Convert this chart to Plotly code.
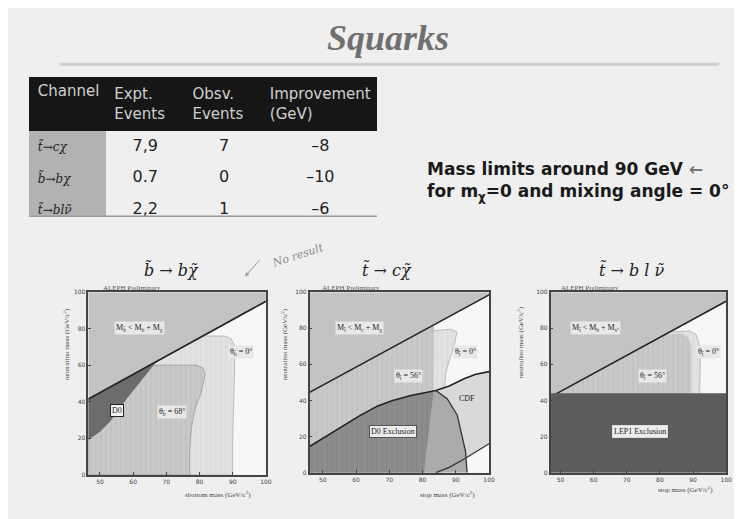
import plotly.graph_objects as go

W, H = 742, 519
OFF = 8  # browser body margin


def px(x):
    return (x - OFF) / W


def py(y):
    return 1 - (y - OFF) / H


# ---------------- table data ----------------
table_header = ["Channel", "Expt.<br>Events", "Obsv.<br>Events", "Improvement<br>(GeV)"]
channels = ["t\u0303\u2192c\u03c7", "b\u0303\u2192b\u03c7", "t\u0303\u2192bl\u03bd\u0303"]
expected_events = ["7,9", "0.7", "2,2"]
observed_events = [7, 0, 1]
improvement_gev = [-8, -10, -6]

# ---------------- axes ----------------
mass_ticks = [50, 60, 70, 80, 90, 100]
neut_ticks = [0, 20, 40, 60, 80, 100]

# ---------------- plot 1: sbottom -> b chi ----------------
sb_xrange = [46.5, 100]
sb_kin_x = [46.5, 100]
sb_kin_y = [41.5, 95]
sb_th0_x = [46.5, 46.5, 81, 87.5, 89.5, 90.5, 90.6, 90.3, 90, 90]
sb_th0_y = [0, 41.5, 76, 76, 74.5, 71, 60, 40, 20, 0]
sb_th68_x = [46.5, 46.5, 65, 79, 81, 81.7, 80.5, 78.5, 77.5, 77, 77]
sb_th68_y = [0, 41.5, 60, 60, 58.5, 55, 45, 35, 25, 12, 0]
sb_d0_x = [46.5, 67, 65.5, 63, 60.5, 58, 55.5, 53, 50, 46.5]
sb_d0_y = [41.5, 62, 58.5, 53, 47, 41.5, 35, 29, 23.5, 19]

# ---------------- plot 2: stop -> c chi ----------------
sc_xrange = [46, 100]
sc_kin_x = [46, 100]
sc_kin_y = [44.5, 98.5]
sc_th0_x = [46, 46, 79.5, 88.5, 90.3, 89.5, 88, 87, 86.5, 86]
sc_th0_y = [0, 44.5, 78, 79.5, 78, 70, 62, 55, 45, 0]
sc_th56_x = [46, 46, 83.5, 83.5, 83.3, 82, 80.4]
sc_th56_y = [0, 44.5, 82, 60, 45, 25, 0]
sc_d0curve_x = [46, 50, 56.5, 61, 66.5, 71, 76.5, 80, 84, 88, 92.5, 96, 100]
sc_d0curve_y = [14.5, 19, 26.4, 31.5, 37, 40, 42.8, 44, 45.5, 48, 52, 54.5, 56]
sc_d0edge_x = [84, 87.4, 90.4, 91.9, 92.9, 93.4]
sc_d0edge_y = [45.5, 41, 32, 21, 12, 0]
sc_cdflow_x = [100, 96, 92, 88, 84]
sc_cdflow_y = [16, 11.5, 7, 3, 0]

# ---------------- plot 3: stop -> b l sneutrino ----------------
sl_xrange = [47, 100]
sl_kin_x = [47, 100]
sl_kin_y = [42, 95]
sl_th0_x = [47, 47, 83, 89, 91, 92, 92.2, 92, 92]
sl_th0_y = [0, 42, 78, 78.5, 76.5, 70, 60, 44, 0]
sl_th56_x = [47, 47, 81.5, 86.5, 88.5, 89.5, 89.5, 89.5]
sl_th56_y = [0, 42, 76.5, 77, 75, 70, 55, 0]
sl_lep1_limit = 44

# ---------------- colours ----------------
PAGE = "#efefef"
PLOTBG = "#f7f7f7"
KIN = "#c3c3c3"
LIGHT = "#e2e2e2"
MED = "#c9c9c9"

fig = go.Figure()


def poly(x, y, color, axis, hatch=None, line=None):
    kw = dict(
        x=list(x) + [x[0]], y=list(y) + [y[0]], mode="lines", fill="toself",
        fillcolor=color, line=dict(width=0 if line is None else line[1],
                                   color=color if line is None else line[0]),
        hoverinfo="skip", showlegend=False, xaxis="x" + axis, yaxis="y" + axis,
    )
    if hatch:
        kw["fillpattern"] = dict(shape="|", fgcolor=hatch, bgcolor=color, size=5, solidity=0.18)
    fig.add_trace(go.Scatter(**kw))


def kin_region(xr, ky, axis):
    poly([xr[0], xr[1], xr[1], xr[0]], [ky[0], ky[1], 100, 100], KIN, axis)


def kin_line(kx, ky, axis):
    fig.add_trace(go.Scatter(x=kx, y=ky, mode="lines", line=dict(color="#222", width=1.6),
                             hoverinfo="skip", showlegend=False, xaxis="x" + axis, yaxis="y" + axis))


# plot 1
kin_region(sb_xrange, sb_kin_y, "")
poly(sb_th0_x, sb_th0_y, LIGHT, "", hatch="#cfcfcf", line=("#9a9a9a", 0.6))
poly(sb_th68_x, sb_th68_y, MED, "", hatch="#b0b0b0", line=("#888", 0.6))
poly(sb_d0_x, sb_d0_y, "#6c6c6c", "")
kin_line(sb_kin_x, sb_kin_y, "")

# plot 2
kin_region(sc_xrange, sc_kin_y, "2")
poly(sc_th0_x, sc_th0_y, LIGHT, "2", hatch="#cfcfcf", line=("#9a9a9a", 0.6))
poly(sc_th56_x, sc_th56_y, MED, "2", hatch="#b0b0b0")
poly(sc_d0curve_x + sc_cdflow_x + [sc_xrange[0]],
     sc_d0curve_y + sc_cdflow_y + [0], "#d9d9d9", "2")
poly([sc_xrange[0]] + [v for v in sc_d0curve_x if v <= sc_d0edge_x[0]] + sc_d0edge_x,
     [0] + [sc_d0curve_y[i] for i, v in enumerate(sc_d0curve_x) if v <= sc_d0edge_x[0]] + sc_d0edge_y,
     "#ababab", "2")
ov_x = [v for v in sc_d0curve_x if v <= sc_th56_x[4]]
ov_y = [sc_d0curve_y[i] for i, v in enumerate(sc_d0curve_x) if v <= sc_th56_x[4]]
poly([sc_xrange[0]] + ov_x + sc_th56_x[4:], [0] + ov_y + sc_th56_y[4:], "#8c8c8c", "2", hatch="#7a7a7a")
fig.add_trace(go.Scatter(x=sc_d0curve_x, y=sc_d0curve_y, mode="lines", line=dict(color="#222", width=1.6),
                         hoverinfo="skip", showlegend=False, xaxis="x2", yaxis="y2"))
fig.add_trace(go.Scatter(x=sc_d0edge_x, y=sc_d0edge_y, mode="lines", line=dict(color="#333", width=1.3),
                         hoverinfo="skip", showlegend=False, xaxis="x2", yaxis="y2"))
fig.add_trace(go.Scatter(x=sc_cdflow_x, y=sc_cdflow_y, mode="lines", line=dict(color="#333", width=1.3),
                         hoverinfo="skip", showlegend=False, xaxis="x2", yaxis="y2"))
kin_line(sc_kin_x, sc_kin_y, "2")

# plot 3
kin_region(sl_xrange, sl_kin_y, "3")
poly(sl_th0_x, sl_th0_y, LIGHT, "3", hatch="#cfcfcf", line=("#9a9a9a", 0.6))
poly(sl_th56_x, sl_th56_y, MED, "3", hatch="#b0b0b0")
kin_line(sl_kin_x, sl_kin_y, "3")
poly([sl_xrange[0], sl_xrange[1], sl_xrange[1], sl_xrange[0]],
     [0, 0, sl_lep1_limit, sl_lep1_limit], "#5c5c5c", "3")

# ---------------- table ----------------
fig.add_trace(go.Table(
    domain=dict(x=[px(30), px(380)], y=[py(216), py(74)]),
    columnwidth=[77, 79, 80, 114],
    header=dict(values=table_header, fill_color="#161616", line_color="#161616",
                font=dict(family="DejaVu Sans", size=15, color="#d0d0d0"),
                align=["left", "left", "left", "center"], height=52),
    cells=dict(values=[[f"<i>{c}</i>" for c in channels], expected_events, observed_events,
                       [f"\u2013{abs(v)}" for v in improvement_gev]],
               fill_color=[["#b2b2b2"] * 3, [PAGE] * 3, [PAGE] * 3, [PAGE] * 3],
               line_color=[["#b2b2b2"] * 3, [PAGE] * 3, [PAGE] * 3, [PAGE] * 3],
               font=dict(family=["DejaVu Serif", "DejaVu Sans", "DejaVu Sans", "DejaVu Sans"],
                         size=[12, 16, 16, 16], color="#1e1e1e"),
               align=["left", "center", "center", "center"], height=27),
))

# ---------------- axes ----------------
ax_common = dict(showgrid=False, zeroline=False, showline=True, linecolor="#444", linewidth=1.5,
                 mirror=True, ticks="inside", ticklen=3, tickcolor="#444",
                 tickfont=dict(family="DejaVu Sans", size=6, color="#444"), fixedrange=True)
domains = {
    "": ([px(89), px(268)], [py(477), py(292)], sb_xrange),
    "2": ([px(312), px(493)], [py(475), py(292)], sc_xrange),
    "3": ([px(555), px(732)], [py(475), py(292)], sl_xrange),
}
layout_axes = {}
for k, (dx, dy, xr) in domains.items():
    layout_axes["xaxis" + k] = dict(domain=dx, range=xr, tickvals=mass_ticks, anchor="y" + k, **ax_common)
    layout_axes["yaxis" + k] = dict(domain=dy, range=[0, 100], tickvals=neut_ticks, anchor="x" + k, **ax_common)

ann = []


def text(x, y, s, size=9, color="#222", family="Liberation Serif", xref="paper", yref="paper",
         bg=None, border=None, angle=0, xanchor="center", style="normal", weight="normal"):
    d = dict(x=x, y=y, text=s, showarrow=False, xref=xref, yref=yref, xanchor=xanchor,
             yanchor="middle", textangle=angle,
             font=dict(size=size, color=color, family=family, style=style, weight=weight))
    if bg:
        d["bgcolor"] = bg
    if border:
        d["bordercolor"] = border
        d["borderwidth"] = 1
        d["borderpad"] = 1
    ann.append(d)


# slide title and text
text(px(391), py(34), "Squarks", size=36, color="#6f6f6f", family="Liberation Serif",
     style="italic", weight="bold")
text(px(428), py(167), "Mass limits around 90 GeV <span style='color:#777'>\u2190</span>", size=17,
     family="DejaVu Sans", weight="bold", xanchor="left", color="#1a1a1a")
text(px(428), py(191), "for m<sub>\u03c7</sub>=0 and mixing angle = 0\u00b0", size=17,
     family="DejaVu Sans", weight="bold", xanchor="left", color="#1a1a1a")

# plot titles
text(px(173), py(270), "b\u0303 \u2192 b\u03c7\u0303", size=16, style="italic", family="DejaVu Serif")
text(px(390), py(270), "t\u0303 \u2192 c\u03c7\u0303", size=16, style="italic", family="DejaVu Serif")
text(px(637), py(270), "t\u0303 \u2192 b l \u03bd\u0303", size=16, style="italic", family="DejaVu Serif")

# ALEPH Preliminary
for xx in (102, 323, 563):
    text(px(xx), py(288), "ALEPH Preliminary", size=7, xanchor="left", color="#555")

# axis titles
for xx, yy in ((67, 345), (287, 345), (525, 343)):
    text(px(xx), py(yy), "neutralino mass (GeV/c<sup>2</sup>)", size=7, angle=-90, color="#444")
text(px(220), py(497), "sbottom mass (GeV/c<sup>2</sup>)", size=7, color="#444")
text(px(451), py(497), "stop mass (GeV/c<sup>2</sup>)", size=7, color="#444")
text(px(691), py(492), "stop mass (GeV/c<sup>2</sup>)", size=7, color="#444")

# handwritten note
ann.append(dict(x=px(247), y=py(276), ax=16, ay=-18,
                xref="paper", yref="paper", showarrow=True, arrowhead=2, arrowsize=0.8,
                arrowwidth=1, arrowcolor="#999", text=""))
text(px(300), py(255), "No result", size=11, style="italic", color="#8a8a8a",
     family="DejaVu Serif", angle=-18)

# in-plot labels
lab = dict(size=8, family="Liberation Serif", bg="#e8e8e8")
text(61.9, 80.5, "M<sub>b\u0303</sub> < M<sub>b</sub> + M<sub>\u03c7</sub>", xref="x", yref="y", **lab)
text(92.6, 67, "\u03b8<sub>b\u0303</sub> = 0\u00b0", xref="x", yref="y", **lab)
text(71.7, 34.5, "\u03b8<sub>b\u0303</sub> = 68\u00b0", xref="x", yref="y", **lab)
text(55, 35, "D0", xref="x", yref="y", size=8, family="Liberation Serif", bg="#f2f2f2", border="#222")

text(61, 80, "M<sub>t\u0303</sub> < M<sub>c</sub> + M<sub>\u03c7</sub>", xref="x2", yref="y2", **lab)
text(92.8, 66.7, "\u03b8<sub>t\u0303</sub> = 0\u00b0", xref="x2", yref="y2", **lab)
text(75.7, 53.5, "\u03b8<sub>t\u0303</sub> = 56\u00b0", xref="x2", yref="y2", **lab)
text(93.4, 41, "CDF", xref="x2", yref="y2", size=8, family="Liberation Serif")
text(71, 23, "D0 Exclusion", xref="x2", yref="y2", size=8, family="Liberation Serif",
     bg="#ececec", border="#555")

text(60.6, 80, "M<sub>t\u0303</sub> < M<sub>b</sub> + M<sub>\u03bd\u0303</sub>", xref="x3", yref="y3", **lab)
text(94.8, 66.7, "\u03b8<sub>t\u0303</sub> = 0\u00b0", xref="x3", yref="y3", **lab)
text(77.9, 53.5, "\u03b8<sub>t\u0303</sub> = 56\u00b0", xref="x3", yref="y3", **lab)
text(74, 23, "LEP1 Exclusion", xref="x3", yref="y3", size=8, family="Liberation Serif",
     bg="#ececec", border="#ddd")

shapes = [
    dict(type="line", xref="paper", yref="paper", x0=px(60), x1=px(725), y0=py(61), y1=py(61),
         line=dict(color="#cfcfcf", width=3)),
    dict(type="line", xref="paper", yref="paper", x0=px(30), x1=px(380), y0=py(215), y1=py(215),
         line=dict(color="#9a9a9a", width=1.5)),
]

fig.update_layout(
    width=W, height=H, autosize=False, margin=dict(l=0, r=0, t=0, b=0),
    paper_bgcolor=PAGE, plot_bgcolor=PLOTBG, showlegend=False,
    annotations=ann, shapes=shapes, **layout_axes,
)

fig.write_html("out.html")
